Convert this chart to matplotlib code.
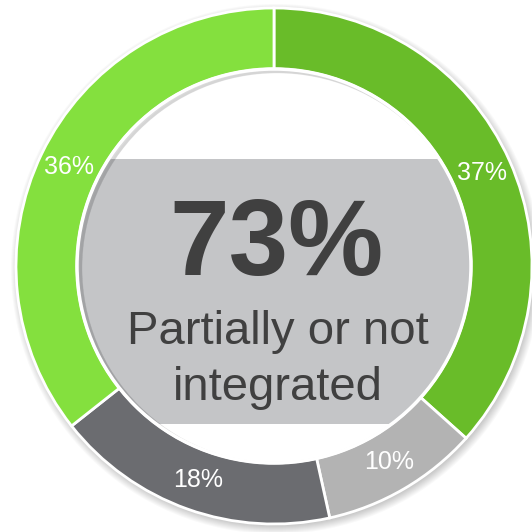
import numpy as np
import matplotlib.pyplot as plt
from matplotlib.patches import Circle, Rectangle

plt.rcParams['font.family'] = ['Liberation Sans', 'DejaVu Sans']

# Share of respondents by integration level (clockwise from top)
shares = [37, 10, 18, 36]
share_labels = ['37%', '10%', '18%', '36%']
colors = ['#69bc29', '#b3b3b3', '#6b6c70', '#84e03e']

headline = '73%'
subtitle = ['Partially or not', 'integrated']

# geometry in pixel units
cx, cy = 274, 266
r_out, ring = 258, 61
r_in = r_out - ring

fig = plt.figure(figsize=(5.32, 5.32), dpi=100)
ax = fig.add_axes([0, 0, 1, 1])

# soft drop shadow behind the ring
for i in range(10):
    ax.add_patch(Circle((cx + 2, cy - 3), r_out - 2 + i, color='black',
                        alpha=0.025, lw=0, zorder=0))

wedges, _ = ax.pie(shares, colors=colors, startangle=90, counterclock=False,
                   center=(cx, cy), radius=r_out,
                   wedgeprops=dict(width=ring, edgecolor='white', linewidth=2))
for w in wedges:
    w.set_zorder(2)

# inner disk with the grey panel
inner = Circle((cx, cy), r_in - 1, facecolor='white', edgecolor='none', zorder=3)
ax.add_patch(inner)
panel = Rectangle((0, 532 - 424), 532, 424 - 159, facecolor='#c4c5c7',
                  edgecolor='none', zorder=4)
ax.add_patch(panel)
panel.set_clip_path(inner)

# inner shadow cast by the ring
for i in range(7):
    sh = Circle((cx + 3, cy - 2), r_in - 1 + i * 1.2, fill=False,
                edgecolor='black', lw=2 + i * 1.6, alpha=0.025, zorder=5)
    ax.add_patch(sh)
    sh.set_clip_path(inner)

ax.add_patch(Circle((cx, cy), r_in, fill=False, edgecolor='white', lw=2.5, zorder=6))

# percentage labels in the middle of each segment
r_lab = r_out - ring / 2
for w, lab in zip(wedges, share_labels):
    ang = np.deg2rad((w.theta1 + w.theta2) / 2)
    ax.text(cx + r_lab * np.cos(ang), cy + r_lab * np.sin(ang), lab,
            color='white', fontsize=18, ha='center', va='center', zorder=7)

ax.text(277, 532 - 275, headline, color='#404040', fontsize=77,
        fontweight='bold', ha='center', va='baseline', zorder=7)
for line, base in zip(subtitle, [344, 400]):
    ax.text(278, 532 - base, line, color='#404040', fontsize=34,
            ha='center', va='baseline', zorder=7)

ax.set_xlim(0, 532)
ax.set_ylim(0, 532)
ax.set_aspect('equal')
ax.axis('off')

fig.savefig('out.png', dpi=100)
